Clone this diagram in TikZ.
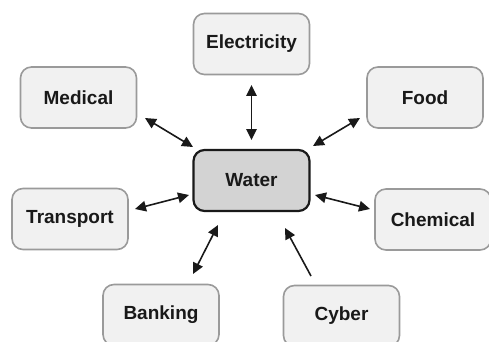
\documentclass[tikz,border=0pt]{standalone}
\usepackage{fontspec}
\setmainfont{Liberation Sans}
\usetikzlibrary{arrows.meta}
\definecolor{boxfill}{HTML}{F1F1F1}
\definecolor{boxline}{HTML}{9A9A9A}
\definecolor{hubfill}{HTML}{D3D3D3}
\tikzset{
  sector/.style={draw=boxline, line width=1.6pt, fill=boxfill, rounded corners=11pt,
    minimum width=116pt, minimum height=61pt, inner sep=0pt,
    font=\fontsize{19}{21}\selectfont\bfseries, text=black!90},
  hub/.style={sector, draw=black!90, line width=2.2pt, fill=hubfill},
  tip/.style={Triangle[length=11pt,width=10.5pt]},
  link/.style={line width=1.6pt, black!90, {Triangle[length=11pt,width=10.5pt]}-{Triangle[length=11pt,width=10.5pt]}},
  onelink/.style={line width=1.6pt, black!90, -{Triangle[length=11pt,width=10.5pt]}}
}
\begin{document}
\begin{tikzpicture}[x=1pt,y=-1pt]
\useasboundingbox (0,0) rectangle (489,342);
\node[hub] (water) at (251.5,180.5) {Water};
\node[sector] (elec) at (251.5,44) {Electricity};
\node[sector] (med) at (78.5,97.5) {Medical};
\node[sector] (food) at (425,97.5) {Food};
\node[sector] (trans) at (70,219) {Transport};
\node[sector] (chem) at (433,219.5) {Chemical};
\node[sector] (bank) at (161,315) {Banking};
\node[sector] (cyber) at (341.5,316) {Cyber};
\coordinate (e1) at (251.5,85); \coordinate (e2) at (251.5,140);
\coordinate (m1) at (145,118); \coordinate (m2) at (193,147);
\coordinate (f1) at (360,118); \coordinate (f2) at (313,146);
\coordinate (t1) at (135,209); \coordinate (t2) at (189,195);
\coordinate (c1) at (315,195); \coordinate (c2) at (370,209);
\coordinate (b1) at (218,225); \coordinate (b2) at (193,274);
\coordinate (y1) at (311,276); \coordinate (y2) at (285,228);
\draw[link] (e1) -- (e2);
\draw[link] (m1) -- (m2);
\draw[link] (f1) -- (f2);
\draw[link] (t1) -- (t2);
\draw[link] (c1) -- (c2);
\draw[link] (b1) -- (b2);
\draw[onelink] (y1) -- (y2);
\end{tikzpicture}
\end{document}
